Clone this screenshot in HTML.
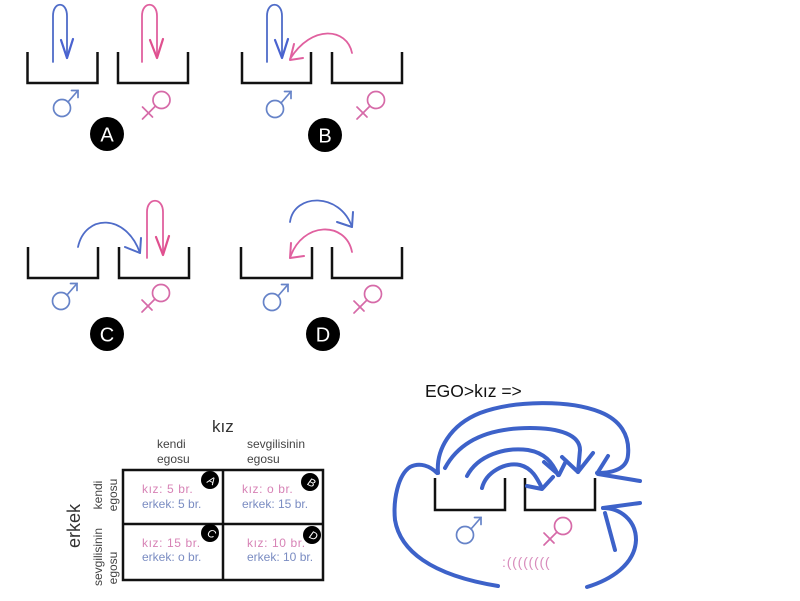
<!DOCTYPE html>
<html>
<head>
<meta charset="utf-8">
<style>
html,body{margin:0;padding:0;background:#fff;}
svg{display:block;}
text{font-family:"Liberation Sans", "DejaVu Sans", sans-serif;}
</style>
</head>
<body>
<svg width="800" height="601" viewBox="0 0 800 601" xmlns="http://www.w3.org/2000/svg">
<rect x="0" y="0" width="800" height="601" fill="#fff"/>

<!-- ===== Buckets (panels) ===== -->
<g fill="none" stroke="#111" stroke-width="2.5" stroke-linejoin="miter">
  <polyline points="27.5,52 27.5,83 97.5,83 97.5,52"/>
  <polyline points="118,52 118,83 188,83 188,52"/>
  <polyline points="242,52 242,83 311,83 311,52"/>
  <polyline points="332,52 332,83 402,83 402,52"/>
  <polyline points="28,247 28,278 98,278 98,247"/>
  <polyline points="119,247 119,278 189,278 189,247"/>
  <polyline points="241,247 241,278 312,278 312,247"/>
  <polyline points="332,247 332,278 402,278 402,247"/>
</g>

<!-- ===== Arrows in panels ===== -->
<g fill="none" stroke-width="1.8" stroke-linecap="round" stroke-linejoin="round">
  <path d="M53,62 L53,16 C53,1 67,1 67,16 L67,58" stroke="#4f6cc8"/>
  <path d="M61,40 L67,58 L73,39" stroke="#4a63d0" stroke-width="2.2"/>
  <path d="M142,62 L142,16 C142,1 157,1 157,16 L157,58" stroke="#e0609f"/>
  <path d="M150,40 L157,58 L163,39" stroke="#e0508f" stroke-width="2.2"/>
  <path d="M267,62 L267,16 C267,1 282,1 282,16 L282,58" stroke="#4f6cc8"/>
  <path d="M275,40 L282,58 L288,39" stroke="#4a63d0" stroke-width="2.2"/>
  <path d="M352,53 C347,28 312,24 290,59" stroke="#e0609f"/>
  <path d="M294,44 L290,60 L303,58" stroke="#e0609f" stroke-width="2"/>
  <path d="M78,247 C85,214 126,213 140,253" stroke="#4f6cc8"/>
  <path d="M125,247 L140,253 L141,238" stroke="#4f6cc8" stroke-width="2"/>
  <path d="M147,258 L147,212 C147,197 163,197 163,212 L163,255" stroke="#e0609f"/>
  <path d="M156,237 L163,255 L169,236" stroke="#e0508f" stroke-width="2.2"/>
  <path d="M290,222 C294,193 340,192 352,227" stroke="#4f6cc8"/>
  <path d="M337,222 L352,227 L353,212" stroke="#4f6cc8" stroke-width="2"/>
  <path d="M352,252 C346,221 302,221 290,258" stroke="#e0609f"/>
  <path d="M291,243 L290,258 L304,256" stroke="#e0609f" stroke-width="2"/>
</g>

<!-- ===== Gender symbols ===== -->
<defs>
  <g id="male" fill="none" stroke="#6683c8" stroke-width="1.7" stroke-linecap="round">
    <circle cx="0" cy="0" r="8.5"/>
    <path d="M6,-6 L16,-17.5"/>
    <path d="M9.5,-17.5 L16,-17.5 L16,-10.5"/>
  </g>
  <g id="female" fill="none" stroke="#d66aa8" stroke-width="1.7" stroke-linecap="round">
    <circle cx="0" cy="0" r="8.5"/>
    <path d="M-6,6 L-19,19"/>
    <path d="M-19,7 L-9,17"/>
  </g>
</defs>
<use href="#male" x="62" y="108"/>
<use href="#female" x="161.5" y="100"/>
<use href="#male" x="275" y="109"/>
<use href="#female" x="376" y="100"/>
<use href="#male" x="61" y="301"/>
<use href="#female" x="161" y="293"/>
<use href="#male" x="272" y="302"/>
<use href="#female" x="373" y="294"/>

<!-- ===== Panel label circles ===== -->
<g>
  <circle cx="107" cy="134" r="17" fill="#000"/>
  <text x="107" y="141.5" font-size="20" fill="#fff" text-anchor="middle">A</text>
  <circle cx="325" cy="135" r="17" fill="#000"/>
  <text x="325" y="142.5" font-size="20" fill="#fff" text-anchor="middle">B</text>
  <circle cx="107" cy="334" r="17" fill="#000"/>
  <text x="107" y="341.5" font-size="20" fill="#fff" text-anchor="middle">C</text>
  <circle cx="323" cy="334" r="17" fill="#000"/>
  <text x="323" y="341.5" font-size="20" fill="#fff" text-anchor="middle">D</text>
</g>

<!-- ===== Table ===== -->
<text x="212" y="432" font-size="17" fill="#333">kız</text>
<text x="157" y="448" font-size="12" fill="#444">kendi</text>
<text x="157" y="463" font-size="12" fill="#444">egosu</text>
<text x="247" y="448" font-size="12" fill="#444">sevgilisinin</text>
<text x="247" y="463" font-size="12" fill="#444">egosu</text>

<text transform="translate(80,526) rotate(-90)" font-size="18" fill="#333" text-anchor="middle">erkek</text>
<text transform="translate(102,495) rotate(-90)" font-size="12" fill="#444" text-anchor="middle">kendi</text>
<text transform="translate(117,495) rotate(-90)" font-size="12" fill="#444" text-anchor="middle">egosu</text>
<text transform="translate(102,557) rotate(-90)" font-size="12" fill="#444" text-anchor="middle">sevgilisinin</text>
<text transform="translate(117,568) rotate(-90)" font-size="12" fill="#444" text-anchor="middle">egosu</text>

<g fill="none" stroke="#111" stroke-width="2.5">
  <rect x="123" y="470" width="200" height="110"/>
  <line x1="223" y1="470" x2="223" y2="580"/>
  <line x1="123" y1="524" x2="323" y2="524"/>
</g>

<g font-size="12">
  <text x="142" y="493" fill="#d783b6" letter-spacing="0.6">kız: 5 br.</text>
  <text x="142" y="508" fill="#7a8cc2">erkek: 5 br.</text>
  <text x="242" y="493" fill="#d783b6" letter-spacing="0.6">kız: o br.</text>
  <text x="242" y="508" fill="#7a8cc2">erkek: 15 br.</text>
  <text x="142" y="547" fill="#d783b6" letter-spacing="0.6">kız: 15 br.</text>
  <text x="142" y="561" fill="#7a8cc2">erkek: o br.</text>
  <text x="247" y="547" fill="#d783b6" letter-spacing="0.6">kız: 10 br.</text>
  <text x="247" y="561" fill="#7a8cc2">erkek: 10 br.</text>
</g>

<g>
  <circle cx="210" cy="480" r="9" fill="#000"/>
  <text transform="translate(210,484) rotate(25)" font-size="11" font-style="italic" fill="#fff" text-anchor="middle">A</text>
  <circle cx="310" cy="482" r="9" fill="#000"/>
  <text transform="translate(310,486) rotate(25)" font-size="11" font-style="italic" fill="#fff" text-anchor="middle">B</text>
  <circle cx="210" cy="533" r="9" fill="#000"/>
  <text transform="translate(210,537) rotate(25)" font-size="11" font-style="italic" fill="#fff" text-anchor="middle">C</text>
  <circle cx="312" cy="535" r="9" fill="#000"/>
  <text transform="translate(312,539) rotate(25)" font-size="11" font-style="italic" fill="#fff" text-anchor="middle">D</text>
</g>

<!-- ===== Right hand drawing ===== -->
<text x="425" y="397" font-size="17.5" fill="#111">EGO&gt;kız =&gt;</text>

<g fill="none" stroke="#111" stroke-width="2.5">
  <polyline points="435,478 435,510 505,510 505,478"/>
  <polyline points="525,478 525,510 595,510 595,478"/>
</g>

<use href="#male" x="465" y="535"/>
<use href="#female" x="563" y="526"/>
<text x="502" y="567" font-size="14" fill="#d88cbc" letter-spacing="0.8">:((((((((</text>

<g fill="none" stroke="#3d62c9" stroke-width="4" stroke-linecap="round" stroke-linejoin="round">
  <path d="M438,473 C436,450 450,425 480,413 C515,400 570,400 600,412 C620,420 630,435 628,455 C627,468 615,473 597,473"/>
  <path d="M608,456 L598,472"/>
  <path d="M640,481 L598,474"/>
  <path d="M445,468 C460,440 490,428 530,428 C560,428 580,435 580,450 L578,472"/>
  <path d="M562,457 L578,472 L593,453"/>
  <path d="M467,476 C478,455 505,447 528,450 C545,453 552,462 558,475"/>
  <path d="M544,462 L559,475 L566,461"/>
  <path d="M482,488 C486,472 505,462 520,465 C532,468 537,478 542,488"/>
  <path d="M527,486 L542,489 L553,477"/>
  <path d="M437,473 C430,466 420,462 410,467 C398,475 393,500 395,520 C400,550 430,575 498,586"/>
  <path d="M587,587 C610,580 635,565 636,540 C636,520 620,508 603,508"/>
  <path d="M640,503 L603,508"/>
  <path d="M615,550 L605,513"/>
</g>
</svg>
</body>
</html>
